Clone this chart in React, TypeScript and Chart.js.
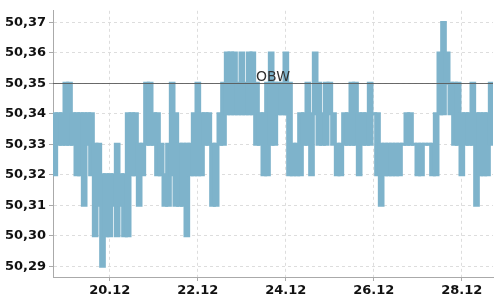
import React, { useEffect, useRef } from "react";
import { Chart, registerables } from "chart.js";

Chart.register(...registerables);

// Time buckets: start (day of December, fractional) and bucket length (days)
const startDay = 18.7083;
const bucketDays = 1 / 12;

// Low / high value reached in each 2-hour bucket
const lows = [
  50.32, 50.33, 50.33, 50.33, 50.33, 50.33, 50.32, 50.32, 50.31, 50.33,
  50.32, 50.30, 50.31, 50.29, 50.30, 50.30, 50.31, 50.30, 50.31, 50.30,
  50.30, 50.32, 50.32, 50.31, 50.32, 50.33, 50.33, 50.33, 50.32, 50.32,
  50.31, 50.31, 50.32, 50.31, 50.31, 50.31, 50.30, 50.32, 50.32, 50.32,
  50.32, 50.33, 50.33, 50.31, 50.31, 50.33, 50.33, 50.34, 50.34, 50.34,
  50.34, 50.34, 50.34, 50.34, 50.34, 50.33, 50.33, 50.32, 50.32, 50.33,
  50.33, 50.34, 50.34, 50.34, 50.32, 50.32, 50.32, 50.32, 50.33, 50.33,
  50.32, 50.34, 50.33, 50.33, 50.33, 50.34, 50.33, 50.32, 50.32, 50.33,
  50.33, 50.33, 50.33, 50.32, 50.33, 50.33, 50.33, 50.34, 50.32, 50.31,
  50.32, 50.32, 50.32, 50.32, 50.32, 50.33, 50.33, 50.33, 50.33, 50.32,
  50.32, 50.33, 50.33, 50.32, 50.32, 50.34, 50.34, 50.35, 50.34, 50.33,
  50.33, 50.32, 50.33, 50.33, 50.33, 50.31, 50.32, 50.32, 50.32, 50.33,
];
const highs = [
  50.34, 50.34, 50.34, 50.35, 50.35, 50.34, 50.34, 50.34, 50.34, 50.34,
  50.34, 50.33, 50.33, 50.32, 50.32, 50.32, 50.32, 50.33, 50.32, 50.32,
  50.34, 50.34, 50.34, 50.33, 50.33, 50.35, 50.35, 50.34, 50.34, 50.33,
  50.32, 50.33, 50.35, 50.34, 50.33, 50.33, 50.33, 50.33, 50.34, 50.35,
  50.34, 50.34, 50.34, 50.33, 50.33, 50.34, 50.35, 50.36, 50.36, 50.36,
  50.35, 50.36, 50.35, 50.36, 50.36, 50.35, 50.34, 50.34, 50.35, 50.36,
  50.35, 50.35, 50.35, 50.36, 50.35, 50.33, 50.33, 50.34, 50.34, 50.35,
  50.34, 50.36, 50.35, 50.34, 50.35, 50.35, 50.34, 50.33, 50.33, 50.34,
  50.34, 50.35, 50.35, 50.34, 50.34, 50.34, 50.35, 50.34, 50.34, 50.33,
  50.33, 50.33, 50.33, 50.33, 50.33, 50.33, 50.34, 50.34, 50.33, 50.33,
  50.33, 50.33, 50.33, 50.33, 50.34, 50.36, 50.37, 50.36, 50.35, 50.35,
  50.35, 50.34, 50.34, 50.34, 50.35, 50.34, 50.34, 50.34, 50.34, 50.35,
];

const yTickValues = [50.29, 50.3, 50.31, 50.32, 50.33, 50.34, 50.35, 50.36, 50.37];
const xTickDays = [20, 22, 24, 26, 28];
const xTickLabels = ["20.12", "22.12", "24.12", "26.12", "28.12"];

const obwValue = 50.35;
const obwLabel = "OBW";

const yMin = 50.2865;
const yMax = 50.3738;

export default function App() {
  const canvasRef = useRef<HTMLCanvasElement | null>(null);

  useEffect(() => {
    if (!canvasRef.current) return;
    Chart.defaults.font.family = "DejaVu Sans";

    const points = lows.map((lo, i) => ({
      x: startDay + (i + 0.5) * bucketDays,
      y: [lo, highs[i]],
    }));

    const obwPlugin = {
      id: "obw",
      afterDatasetsDraw(chart: any) {
        const { ctx, chartArea, scales } = chart;
        const y = Math.round(scales.y.getPixelForValue(obwValue)) + 0.5;
        ctx.save();
        ctx.strokeStyle = "rgba(90,90,90,0.9)";
        ctx.lineWidth = 1;
        ctx.beginPath();
        ctx.moveTo(chartArea.left, y);
        ctx.lineTo(chartArea.right, y);
        ctx.stroke();
        ctx.fillStyle = "#333";
        ctx.font = "14px 'DejaVu Sans'";
        ctx.textAlign = "center";
        ctx.textBaseline = "alphabetic";
        ctx.fillText(obwLabel, (chartArea.left + chartArea.right) / 2, y - 3);
        ctx.restore();
      },
    };

    const chart = new Chart(canvasRef.current, {
      type: "bar",
      data: {
        datasets: [
          {
            data: points as any,
            backgroundColor: "rgb(126,179,203)",
            borderWidth: 0,
            barPercentage: 1,
            categoryPercentage: 1,
            inflateAmount: 1.5,
          } as any,
        ],
      },
      options: {
        responsive: false,
        animation: false,
        layout: { padding: { top: 5, right: 7, left: 0, bottom: 0 } },
        plugins: { legend: { display: false }, tooltip: { enabled: false } },
        scales: {
          x: {
            type: "linear",
            offset: false,
            min: startDay,
            max: startDay + lows.length * bucketDays,
            afterBuildTicks: (scale: any) => {
              scale.ticks = xTickDays.map((v) => ({ value: v }));
            },
            afterFit: (scale: any) => {
              scale.height = 23;
            },
            ticks: {
              color: "#111",
              font: { size: 13, weight: "bold" },
              padding: 2,
              maxRotation: 0,
              callback: (v: any) => {
                const i = xTickDays.indexOf(Number(v));
                return i >= 0 ? xTickLabels[i] : "";
              },
            },
            grid: {
              offset: false,
              color: "#dddddd",
              tickColor: "#aaaaaa",
              tickLength: 4,
            },
            border: { color: "#aaaaaa", dash: [3, 3] },
          },
          y: {
            min: yMin,
            max: yMax,
            afterBuildTicks: (scale: any) => {
              scale.ticks = yTickValues.map((v) => ({ value: v }));
            },
            afterFit: (scale: any) => {
              scale.width = 53;
            },
            ticks: {
              color: "#111",
              font: { size: 13, weight: "bold" },
              padding: 3,
              callback: (v: any) => Number(v).toFixed(2).replace(".", ","),
            },
            grid: {
              color: "#dddddd",
              tickColor: "#aaaaaa",
              tickLength: 4,
            },
            border: { color: "#aaaaaa", dash: [3, 3] },
          },
        },
      },
      plugins: [obwPlugin],
    });

    return () => chart.destroy();
  }, []);

  return (
    <div style={{ position: "fixed", left: 0, top: 0, width: 500, height: 300, background: "#fff" }}>
      <canvas ref={canvasRef} width={500} height={300} />
    </div>
  );
}
